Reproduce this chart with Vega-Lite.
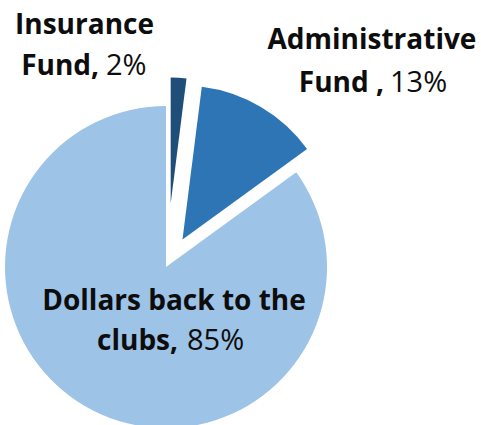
{
  "$schema": "https://vega.github.io/schema/vega-lite/v6.json",
  "width": 322,
  "height": 316,
  "autosize": {"type": "none"},
  "padding": {"left": 5, "top": 109, "right": 154, "bottom": 0},
  "background": "white",
  "config": {"view": {"stroke": null}, "text": {"font": "Open Sans", "fontSize": 28, "color": "#0d0d0d", "baseline": "alphabetic"}},
  "data": {"values": [
    {"category": "Insurance Fund", "value": 2, "name1": "Insurance", "name2": "Fund,", "pct": "2%"},
    {"category": "Administrative Fund", "value": 13, "name1": "Administrative", "name2": "Fund ,", "pct": "13%"},
    {"category": "Dollars back to the clubs", "value": 85, "name1": "Dollars back to the", "name2": "clubs,", "pct": "85%"}
  ]},
  "transform": [{"stack": "value", "groupby": [], "as": ["v0", "v1"]}],
  "layer": [
    {
      "transform": [{"filter": "datum.category === 'Dollars back to the clubs'"}],
      "mark": {"type": "arc", "outerRadius": 161, "color": "#9DC3E6"},
      "encoding": {"theta": {"field": "v0", "type": "quantitative", "scale": {"domain": [0, 100]}}, "theta2": {"field": "v1"}}
    },
    {
      "transform": [{"filter": "datum.category === 'Administrative Fund'"}],
      "mark": {"type": "arc", "outerRadius": 154, "color": "#2E75B6", "xOffset": 16.5, "yOffset": -27.5},
      "encoding": {"theta": {"field": "v0", "type": "quantitative", "scale": {"domain": [0, 100]}}, "theta2": {"field": "v1"}}
    },
    {
      "transform": [{"filter": "datum.category === 'Insurance Fund'"}],
      "mark": {"type": "arc", "outerRadius": 126, "color": "#1F4E79", "xOffset": 4.7, "yOffset": -63.5},
      "encoding": {"theta": {"field": "v0", "type": "quantitative", "scale": {"domain": [0, 100]}}, "theta2": {"field": "v1"}}
    },
    {
      "transform": [{"filter": "datum.category === 'Insurance Fund'"}],
      "mark": {"type": "text", "fontWeight": "bold", "align": "center", "dx": -81.5, "dy": -33},
      "encoding": {"theta": {"field": "v0", "type": "quantitative"}, "radius": {"value": 200}, "text": {"field": "name1"}}
    },
    {
      "transform": [{"filter": "datum.category === 'Insurance Fund'"}],
      "mark": {"type": "text", "fontWeight": "bold", "align": "right", "dx": -67, "dy": 8},
      "encoding": {"theta": {"field": "v0", "type": "quantitative"}, "radius": {"value": 200}, "text": {"field": "name2"}}
    },
    {
      "transform": [{"filter": "datum.category === 'Insurance Fund'"}],
      "mark": {"type": "text", "fontWeight": "normal", "fontSize": 29, "align": "left", "dx": -60, "dy": 8},
      "encoding": {"theta": {"field": "v0", "type": "quantitative"}, "radius": {"value": 200}, "text": {"field": "pct"}}
    },
    {
      "transform": [{"filter": "datum.category === 'Administrative Fund'"}],
      "mark": {"type": "text", "fontWeight": "bold", "align": "center", "dx": 180.9, "dy": -19.6},
      "encoding": {"theta": {"field": "v0", "type": "quantitative"}, "radius": {"value": 200}, "text": {"field": "name1"}}
    },
    {
      "transform": [{"filter": "datum.category === 'Administrative Fund'"}],
      "mark": {"type": "text", "fontWeight": "bold", "align": "right", "dx": 192.9, "dy": 23.4},
      "encoding": {"theta": {"field": "v0", "type": "quantitative"}, "radius": {"value": 200}, "text": {"field": "name2"}}
    },
    {
      "transform": [{"filter": "datum.category === 'Administrative Fund'"}],
      "mark": {"type": "text", "fontWeight": "normal", "fontSize": 29, "align": "left", "dx": 198.9, "dy": 23.4},
      "encoding": {"theta": {"field": "v0", "type": "quantitative"}, "radius": {"value": 200}, "text": {"field": "pct"}}
    },
    {
      "transform": [{"filter": "datum.category === 'Dollars back to the clubs'"}],
      "mark": {"type": "text", "fontWeight": "bold", "align": "center", "dx": -32.45, "dy": 72.4},
      "encoding": {"theta": {"field": "v0", "type": "quantitative"}, "radius": {"value": 50}, "text": {"field": "name1"}}
    },
    {
      "transform": [{"filter": "datum.category === 'Dollars back to the clubs'"}],
      "mark": {"type": "text", "fontWeight": "bold", "align": "right", "dx": -28.45, "dy": 112.4},
      "encoding": {"theta": {"field": "v0", "type": "quantitative"}, "radius": {"value": 50}, "text": {"field": "name2"}}
    },
    {
      "transform": [{"filter": "datum.category === 'Dollars back to the clubs'"}],
      "mark": {"type": "text", "fontWeight": "normal", "fontSize": 29, "align": "left", "dx": -19.45, "dy": 112.4},
      "encoding": {"theta": {"field": "v0", "type": "quantitative"}, "radius": {"value": 50}, "text": {"field": "pct"}}
    }
  ]
}
